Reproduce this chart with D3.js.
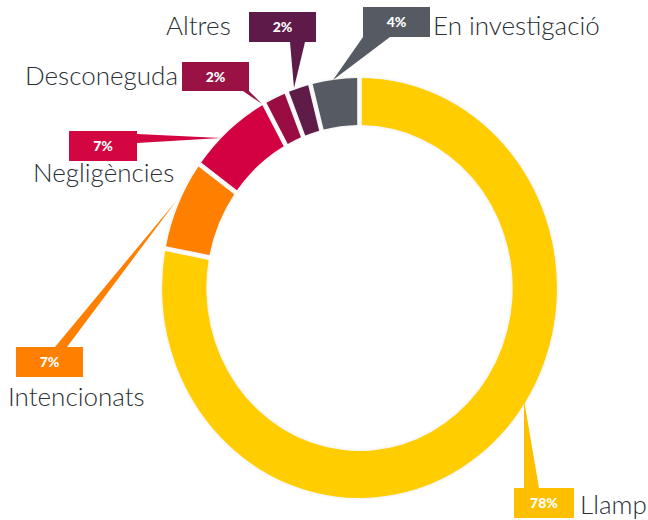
<!DOCTYPE html>
<html><head><meta charset="utf-8">
<script src="https://cdn.jsdelivr.net/npm/d3@7"></script>
<style>body{margin:0;background:#fff} svg{display:block}</style>
</head><body><svg id="c" width="648" height="520"></svg>
<script>
// ---- data ----
const categories = ["Llamp","Intencionats","Negligències","Desconeguda","Altres","En investigació"];
const values = [78,7,7,2,2,4];
const valueLabels = ["78%","7%","7%","2%","2%","4%"];
// ---- styles ----
const ringColors = ["#FFCD05","#FF7F00","#D30642","#9A1143","#5E1A49","#565A62"];
const boxColors  = ["#FDBF00","#FF7F00","#D30642","#9A1143","#5E1A49","#565A62"];
// ---- annotation layout (box rect, pointer triangle, category label) ----
const layout = [
  {box:[514,488,60,30], ptr:[[524,488],[539,488],[524,400]], lab:[580,514,"start"]},
  {box:[16,347,67,30],  ptr:[[55,347],[67,347],[177,200]],   lab:[8,406,"start"]},
  {box:[69,131,68,30],  ptr:[[137,134],[137,143],[221,138]], lab:[33,182,"start"]},
  {box:[182,62,67,29],  ptr:[[243,91],[249,91],[262,104]],   lab:[178,85,"end"]},
  {box:[249,12,67,30],  ptr:[[290,42],[305,42],[294,88]],    lab:[166,35,"start"]},
  {box:[363,7,67,30],   ptr:[[363,37],[390,37],[333,80]],    lab:[433,35,"start"]}
];

const svg = d3.select("#c");
const cx = 359.5, cy = 288, rOuter = 210, rInner = 163, sx = 0.94;

const defs = svg.append("defs");
const f = defs.append("filter").attr("id","halo").attr("x","-10%").attr("y","-10%").attr("width","120%").attr("height","120%");
f.append("feDropShadow").attr("dx",0).attr("dy",0).attr("stdDeviation",1.6)
  .attr("flood-color","#000").attr("flood-opacity",0.13);

const pie = d3.pie().sort(null).value(d => d.v);
const arcs = pie(values.map((v,i)=>({v,i})));
const arc = d3.arc().innerRadius(rInner).outerRadius(rOuter).padAngle(0.026).padRadius(190);

const ring = svg.append("g")
  .attr("transform", `translate(${cx},${cy}) scale(${sx},1)`)
  .attr("filter","url(#halo)");
ring.selectAll("path").data(arcs).join("path")
  .attr("d", arc)
  .attr("fill", d => ringColors[d.data.i]);

const ann = svg.append("g");
const g = ann.selectAll("g").data(categories.map((c,i)=>({c,i}))).join("g");
g.append("polygon")
  .attr("points", d => layout[d.i].ptr.map(p=>p.join(",")).join(" "))
  .attr("fill", d => boxColors[d.i]);
g.append("rect")
  .attr("x", d => layout[d.i].box[0]).attr("y", d => layout[d.i].box[1])
  .attr("width", d => layout[d.i].box[2]).attr("height", d => layout[d.i].box[3])
  .attr("fill", d => boxColors[d.i]);
g.append("text")
  .attr("x", d => layout[d.i].box[0] + layout[d.i].box[2]/2)
  .attr("y", d => layout[d.i].box[1] + layout[d.i].box[3]/2)
  .attr("dy","0.36em")
  .attr("text-anchor","middle")
  .attr("fill","#fff")
  .attr("font-family","Lato, 'Open Sans', sans-serif")
  .attr("font-weight",900)
  .attr("font-size",14)
  .text(d => valueLabels[d.i]);
g.append("text")
  .attr("x", d => layout[d.i].lab[0]).attr("y", d => layout[d.i].lab[1])
  .attr("text-anchor", d => layout[d.i].lab[2])
  .attr("fill","#2b2f36")
  .attr("font-family","Lato, 'Open Sans', sans-serif")
  .attr("font-weight",300)
  .attr("font-size",26)
  .text(d => d.c);
</script></body></html>
